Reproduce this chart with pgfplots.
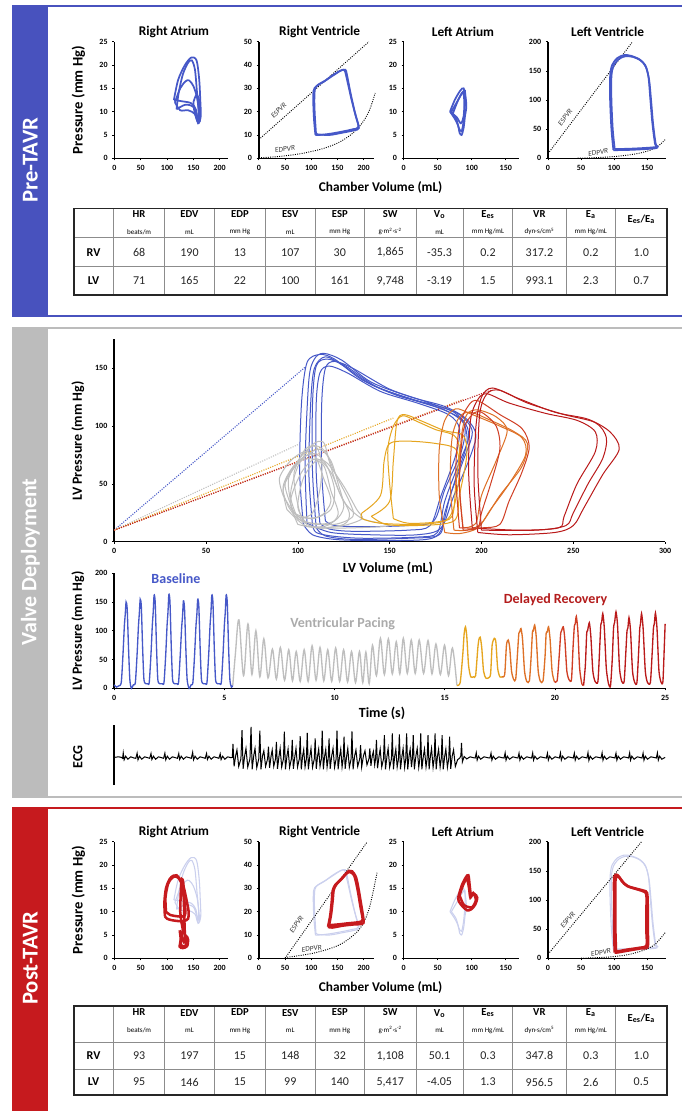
\documentclass[border=0pt]{standalone}
\usepackage{fontspec}
\setmainfont{Carlito}
\usepackage{pgfplots}
\pgfplotsset{compat=1.18}

\definecolor{pvblue}{RGB}{70,88,200}
\definecolor{sideblue}{RGB}{72,82,190}
\definecolor{sidegray}{RGB}{188,188,188}
\definecolor{sidered}{RGB}{198,26,30}
\definecolor{pvgray}{RGB}{190,190,190}
\definecolor{pvgold}{RGB}{230,165,30}
\definecolor{pvorange}{RGB}{222,112,38}
\definecolor{pvredor}{RGB}{208,62,36}
\definecolor{pvred}{RGB}{186,26,26}
\definecolor{fadeblue}{RGB}{203,208,238}
\definecolor{txtred}{RGB}{180,28,28}

\pgfplotsset{
  pvaxis/.style={
    scale only axis, anchor=south west, clip=false,
    axis lines=left, axis line style={-, line width=1.1pt, black},
    tick align=outside, major tick length=1.6pt,
    tick style={black, line width=0.5pt},
    ticklabel style={font=\fontsize{6}{6.5}\selectfont\bfseries, text=black},
    /pgf/number format/assume math mode=true,
  },
  small/.style={pvaxis, height=87.45pt, xmin=0, ymin=0},
  preloop/.style={smooth, tension=0.5, line width=1.3pt, pvblue},
  fadeloop/.style={smooth, tension=0.5, line width=0.8pt, fadeblue},
  postloop/.style={smooth, tension=0.5, line width=1.9pt, sidered},
  rel/.style={densely dotted, line width=0.7pt, black},
  mloop/.style={smooth, tension=0.5, line width=0.75pt},
}
\tikzset{lbl/.style={font=\fontsize{5.5}{6}\selectfont\itshape, text=black!80, inner sep=0.5pt}}

\newcommand\hd[4]{\node[align=center, inner sep=0pt] at (#1,#2)
  {\fontsize{8}{8.5}\selectfont\bfseries #3\\[0.5pt]\fontsize{5.3}{5.5}\selectfont #4};}

\begin{document}
\begin{tikzpicture}
\begin{scope}[x=0.75pt, y=-0.75pt]
  \fill[white] (0,0) rectangle (682,1111);
  \useasboundingbox (0,0) rectangle (682,1111);
  % panel frames
  \fill[sideblue] (12.3,6) rectangle (48.3,316);
  \draw[sideblue, line width=1.5pt] (12.3,6) -- (682,6);
  \draw[sideblue, line width=1.5pt] (12.3,316) -- (682,316);
  \fill[sidegray] (12.3,327.7) rectangle (48.3,797);
  \draw[sidegray, line width=1.5pt] (12.3,327.7) -- (682,327.7);
  \draw[sidegray, line width=1.5pt] (12.3,797) -- (682,797);
  \fill[sidered] (12.3,808.3) rectangle (48.3,1111);
  \draw[sidered, line width=1.5pt] (12.3,808.3) -- (682,808.3);
  \node[rotate=90, text=white, font=\fontsize{17}{19}\selectfont\bfseries] at (30.3,160) {Pre-TAVR};
  \node[rotate=90, text=white, font=\fontsize{16.5}{19}\selectfont\bfseries] at (30.3,562) {Valve Deployment};
  \node[rotate=90, text=white, font=\fontsize{17}{19}\selectfont\bfseries] at (30.3,958) {Post-TAVR};

  % small panel titles and labels
  \foreach \yo in {0,800} {
    \node[font=\fontsize{10}{11}\selectfont\bfseries] at (174,31.7+\yo) {Right Atrium};
    \node[font=\fontsize{10}{11}\selectfont\bfseries] at (319.7,31.7+\yo) {Right Ventricle};
    \node[font=\fontsize{10}{11}\selectfont\bfseries] at (463,31.7+\yo) {Left Atrium};
    \node[font=\fontsize{10}{11}\selectfont\bfseries] at (607.6,31.7+\yo) {Left Ventricle};
    \node[rotate=90, font=\fontsize{11}{12}\selectfont\bfseries] at (78.3,100+\yo) {Pressure (mm Hg)};
    \node[font=\fontsize{10}{11}\selectfont\bfseries] at (380.6,188+\yo) {Chamber Volume (mL)};
  }
  % middle labels
  \node[rotate=90, font=\fontsize{10.5}{11}\selectfont\bfseries] at (77.8,441) {LV Pressure (mm Hg)};
  \node[font=\fontsize{10.5}{11}\selectfont\bfseries] at (388,568.3) {LV Volume (mL)};
  \node[rotate=90, font=\fontsize{10.5}{11}\selectfont\bfseries] at (77.8,631) {LV Pressure (mm Hg)};
  \node[font=\fontsize{10.5}{11}\selectfont\bfseries] at (382,713.3) {Time (s)};
  \node[rotate=90, font=\fontsize{10.5}{11}\selectfont\bfseries] at (77.8,757) {ECG};
  \node[font=\fontsize{10.5}{11}\selectfont\bfseries, text=pvblue] at (175.9,579) {Baseline};
  \node[font=\fontsize{10.5}{11}\selectfont\bfseries, text=pvgray!90!black] at (342.7,624) {Ventricular Pacing};
  \node[font=\fontsize{10.5}{11}\selectfont\bfseries, text=txtred] at (555.5,600) {Delayed Recovery};

  % tables
  \foreach \ta/\tb/\tc/\td in {208.3/237.7/266.7/295, 1006/1042.5/1069/1095} {
    \draw[black!45, line width=0.6pt] (73.8,\tb) -- (667,\tb);
    \draw[black!45, line width=0.6pt] (73.8,\tc) -- (667,\tc);
    \foreach \x in {113.4,164.8,214.2,265.6,315,364.5,415.9,463.3,512.7,566.1,615.5}
      \draw[black!45, line width=0.6pt] (\x,\ta) -- (\x,\td);
    \draw[black!85, line width=1.1pt] (73.8,\ta) rectangle (667,\td);
  }
  \foreach \hy in {222.5, 1021} {
    \hd{139.1}{\hy}{HR}{beats/m}
    \hd{189.5}{\hy}{EDV}{mL}
    \hd{239.9}{\hy}{EDP}{mm Hg}
    \hd{290.3}{\hy}{ESV}{mL}
    \hd{339.8}{\hy}{ESP}{mm Hg}
    \hd{390.2}{\hy}{SW}{g·m\textsuperscript{2}·s\textsuperscript{-2}}
    \hd{439.6}{\hy}{V\textsubscript{o}}{mL}
    \hd{488}{\hy}{E\textsubscript{es}}{mm Hg/mL}
    \hd{539.4}{\hy}{VR}{dyn·s/cm\textsuperscript{5}}
    \hd{590.8}{\hy}{E\textsubscript{a}}{mm Hg/mL}
    \node[font=\fontsize{8}{9}\selectfont\bfseries] at (641.3,\hy-3) {E\textsubscript{es}/E\textsubscript{a}};
  }
  \foreach \ry/\lab in {252.2/RV, 280.8/LV, 1055.8/RV, 1082/LV}
    \node[font=\fontsize{9}{10}\selectfont\bfseries] at (93.6,\ry) {\lab};
  \foreach \x/\v in {139.1/68, 189.5/190, 239.9/13, 290.3/107, 339.8/30, 390.2/{1,865}, 439.6/-35.3, 488/0.2, 539.4/317.2, 590.8/0.2, 641.3/1.0}
    \node[font=\fontsize{9}{10}\selectfont, text=black!85] at (\x,252.2) {\v};
  \foreach \x/\v in {139.1/71, 189.5/165, 239.9/22, 290.3/100, 339.8/161, 390.2/{9,748}, 439.6/-3.19, 488/1.5, 539.4/993.1, 590.8/2.3, 641.3/0.7}
    \node[font=\fontsize{9}{10}\selectfont, text=black!85] at (\x,280.8) {\v};
  \foreach \x/\v in {139.1/93, 189.5/197, 239.9/15, 290.3/148, 339.8/32, 390.2/{1,108}, 439.6/50.1, 488/0.3, 539.4/347.8, 590.8/0.3, 641.3/1.0}
    \node[font=\fontsize{9}{10}\selectfont, text=black!85] at (\x,1055.8) {\v};
  \foreach \x/\v in {139.1/95, 189.5/146, 239.9/15, 290.3/99, 339.8/140, 390.2/{5,417}, 439.6/-4.05, 488/1.3, 539.4/956.5, 590.8/2.6, 641.3/0.5}
    \node[font=\fontsize{9}{10}\selectfont, text=black!85] at (\x,1082) {\v};

  % axis origins
  \coordinate (a1) at (114.4,158.3);
  \coordinate (a2) at (258.8,158.3);
  \coordinate (a3) at (403.7,158.3);
  \coordinate (a4) at (548,158.3);
  \coordinate (b1) at (114.4,958.3);
  \coordinate (b2) at (258.8,958.3);
  \coordinate (b3) at (403.7,958.3);
  \coordinate (b4) at (548,958.3);
  \coordinate (m1) at (114.2,541.7);
  \coordinate (m2) at (114.2,688.3);
  \coordinate (m3) at (114.2,785);
\end{scope}

% ---------------- Pre-TAVR ----------------
\begin{axis}[small, at={(a1)}, width=84.9pt, xmax=215, ymax=25,
  xtick={0,50,...,200}, ytick={0,5,...,25}]
\addplot[preloop] coordinates {(113,12.5)(121,16.8)(134,20)(146,21.6)(156,21)(161,17)(163,12.8)(164,9)(159,7.5)(155,10.4)(146,11.8)(130,12.2)(113,12.5)};
\addplot[preloop] coordinates {(115,12)(125,15)(135,16.5)(142,16.7)(150,15.5)(157,13)(160,10)(158,7.8)(153,9.5)(140,10.3)(125,10.3)(115,12)};
\addplot[preloop] coordinates {(118,10.5)(122,14)(130,18)(140,20.5)(147,21)(153,19)(157,14)(160,10.5)(162,8)(157,9)(150,11)(135,11.5)(118,10.5)};
\addplot[preloop] coordinates {(150,12)(155,13.5)(160,13)(162,10)(158,8)(152,10)(150,12)};
\end{axis}

\begin{axis}[small, at={(a2)}, width=86.5pt, xmax=220, ymax=50,
  xtick={0,50,...,200}, ytick={0,10,...,50}]
\addplot[rel] coordinates {(0,8)(210,50)};
\addplot[rel, smooth] coordinates {(0,0.2)(40,0.8)(80,2)(120,4)(150,6.5)(175,10)(195,14.5)(210,20)(222,28)};
\addplot[preloop] coordinates {(108,10)(105.5,16)(104,23)(104.5,29)(110,31)(125,33)(140,35.5)(155,37.5)(165,38)(168,36)(175,28)(183,20)(190,13.5)(180,12.5)(160,11.5)(135,10.5)(115,10)(108,10)};
\addplot[preloop] coordinates {(109,11)(107,18)(106,24)(107,29.5)(113,31.5)(128,33.5)(145,36)(158,37.8)(164,37.5)(169,33)(177,25)(185,18)(191,13)(182,12)(160,11)(135,10)(112,10.3)(109,11)};
\node[lbl, rotate=45] at (axis cs:38,20.5) {ESPVR};
\node[lbl, rotate=8] at (axis cs:50,4) {EDPVR};
\end{axis}

\begin{axis}[small, at={(a3)}, width=86.8pt, xmax=170, ymax=25,
  xtick={0,50,...,150}, ytick={0,5,...,25}]
\addplot[preloop] coordinates {(68,10)(75,12.5)(83,14.5)(88,15)(91,13)(92,11)(90,9)(88,6.5)(85,5)(82,5.5)(80,7)(75,8.5)(68,10)};
\addplot[preloop] coordinates {(70,10)(78,12)(86,14)(90,14.5)(90,11.5)(88,8)(85,5.8)(81,6.5)(77,8.5)(70,10)};
\addplot[preloop] coordinates {(72,9.5)(80,12.5)(87,14.2)(89,12)(88,9)(84,7.5)(78,8.8)(72,9.5)};
\end{axis}

\begin{axis}[small, at={(a4)}, width=88.2pt, xmax=178, ymax=200,
  xtick={0,50,...,150}, ytick={0,50,...,200}]
\addplot[rel] coordinates {(0,8)(128,200)};
\addplot[rel, smooth] coordinates {(45,0.3)(80,1.5)(110,4)(135,8)(155,14)(168,22)(178,33)};
\addplot[preloop] coordinates {(99,14)(96,50)(94,100)(94,140)(97,160)(105,172)(115,177)(125,176)(138,170)(147,160)(152,140)(155,100)(158,60)(162,25)(165,18)(150,16)(125,14.5)(105,14)(99,14)};
\addplot[preloop] coordinates {(101,16)(98,50)(96,100)(96,140)(99,158)(107,170)(117,175)(128,174)(140,168)(148,157)(153,135)(156,100)(159,60)(163,25)(166,20)(150,18)(125,16.5)(107,16)(101,16)};
\node[lbl, rotate=53] at (axis cs:26,70) {ESPVR};
\node[lbl, rotate=8] at (axis cs:76,10) {EDPVR};
\end{axis}

% ---------------- Valve deployment: PV loops ----------------
\begin{axis}[pvaxis, at={(m1)}, width=413.2pt, height=151.7pt,
  xmin=0, xmax=300, ymin=0, ymax=175,
  xtick={0,50,...,300}, ytick={0,50,100,150}]
\addplot[densely dotted, line width=0.8pt, pvblue] coordinates {(0,10)(104,151)};
\addplot[densely dotted, line width=0.8pt, pvgray] coordinates {(0,10)(100,84)};
\addplot[densely dotted, line width=0.8pt, pvgold] coordinates {(0,10)(152,107)};
\addplot[densely dotted, line width=0.8pt, pvorange] coordinates {(0,10)(190,123)};
\addplot[densely dotted, line width=0.8pt, pvred] coordinates {(0,10)(205,131)};
% baseline
\addplot[mloop, pvblue] coordinates {(103,15)(101,60)(102,120)(105,155)(112,162)(120,158)(135,140)(155,126)(175,118)(188,110)(195,95)(190,70)(183,40)(178,10)(170,2)(140,1)(120,2)(108,6)(103,15)};
\addplot[mloop, pvblue] coordinates {(108,14)(106,60)(107,120)(109,150)(115,160)(125,152)(140,136)(160,124)(178,115)(190,105)(193,90)(187,65)(180,35)(176,8)(165,4)(135,3)(118,5)(110,8)(108,14)};
\addplot[mloop, pvblue] coordinates {(112,16)(110,60)(110,120)(112,146)(117,152)(127,146)(145,130)(165,120)(182,110)(188,98)(186,75)(178,40)(172,14)(160,10)(130,9)(117,11)(112,16)};
\addplot[mloop, pvblue] coordinates {(115,18)(113,60)(113,120)(115,150)(120,156)(130,150)(150,132)(170,121)(185,112)(191,100)(189,78)(180,45)(174,18)(160,14)(135,13)(120,14)(115,18)};
\addplot[mloop, pvblue] coordinates {(105,16)(104,70)(106,140)(109,158)(114,163)(124,157)(140,138)(162,125)(180,117)(192,106)(197,92)(193,70)(185,40)(178,12)(165,6)(140,6)(118,8)(105,16)};
\addplot[mloop, pvblue] coordinates {(110,12)(108,60)(108,120)(110,152)(116,158)(126,152)(143,134)(163,123)(180,114)(190,103)(192,85)(186,55)(180,25)(177,6)(160,3)(130,2)(115,5)(110,12)};
% pacing
\addplot[mloop, pvgray] coordinates {(95,30)(92,45)(97,62)(105,75)(112,80)(118,70)(122,50)(125,30)(120,18)(110,15)(100,20)(95,30)};
\addplot[mloop, pvgray] coordinates {(98,25)(93,50)(100,70)(108,83)(115,78)(120,60)(128,35)(130,22)(120,15)(105,17)(98,25)};
\addplot[mloop, pvgray] coordinates {(92,40)(90,55)(96,70)(104,78)(110,72)(114,55)(118,35)(112,22)(100,22)(92,40)};
\addplot[mloop, pvgray] coordinates {(100,20)(96,40)(100,65)(108,84)(114,86)(117,70)(122,45)(128,25)(125,15)(110,12)(100,20)};
\addplot[mloop, pvgray] coordinates {(96,35)(95,55)(102,72)(110,76)(116,65)(120,45)(118,28)(108,20)(98,25)(96,35)};
\addplot[mloop, pvgray] coordinates {(105,15)(100,30)(103,55)(110,70)(116,68)(125,48)(132,28)(135,20)(125,14)(112,12)(105,15)};
\addplot[mloop, pvgray] coordinates {(99,40)(98,60)(104,80)(110,82)(113,68)(112,45)(108,25)(102,22)(99,40)};
\addplot[mloop, pvgray] coordinates {(94,28)(92,48)(98,66)(106,72)(114,66)(118,44)(122,24)(116,14)(104,14)(94,28)};
\addplot[mloop, pvgray] coordinates {(100,15)(96,35)(102,60)(110,72)(118,60)(125,35)(135,20)(150,14)(130,12)(110,12)(100,15)};
% recovery
\addplot[mloop, pvgold] coordinates {(152,20)(150,50)(149,80)(152,100)(157,109)(165,104)(175,97)(185,92)(188,80)(186,50)(184,22)(175,17)(160,16)(152,20)};
\addplot[mloop, pvgold] coordinates {(135,25)(145,40)(147,70)(150,85)(160,87)(175,85)(186,80)(188,60)(185,30)(180,18)(165,15)(145,16)(135,20)(135,25)};
\addplot[mloop, pvgold] coordinates {(140,22)(150,35)(152,70)(154,104)(158,110)(168,104)(180,96)(190,92)(192,75)(188,40)(185,18)(165,14)(148,15)(140,22)};
\addplot[mloop, pvorange] coordinates {(180,8)(177,40)(177,80)(180,105)(186,115)(195,110)(210,100)(222,90)(224,75)(215,50)(205,28)(198,12)(188,7)(180,8)};
\addplot[mloop, pvorange] coordinates {(185,10)(183,50)(184,90)(188,108)(194,112)(205,105)(218,95)(225,85)(222,65)(210,40)(200,16)(192,10)(185,10)};
\addplot[mloop, pvorange] coordinates {(190,12)(188,50)(189,90)(192,110)(198,114)(208,108)(214,96)(208,70)(200,40)(197,16)(190,12)};
\addplot[mloop, pvred] coordinates {(198,8)(196,50)(197,100)(200,125)(206,133)(220,124)(240,112)(258,106)(270,95)(275,80)(266,58)(256,30)(250,14)(240,8)(215,6)(198,8)};
\addplot[mloop, pvred] coordinates {(200,10)(198,60)(199,110)(203,128)(210,131)(225,120)(245,110)(262,103)(268,90)(266,72)(258,50)(250,25)(246,14)(230,10)(200,10)};
\addplot[mloop, pvred] coordinates {(195,12)(193,60)(194,105)(198,123)(203,128)(215,120)(235,111)(252,105)(262,95)(262,78)(252,50)(245,22)(242,12)(220,10)(195,12)};
\addplot[mloop, pvredor] coordinates {(188,12)(186,60)(188,100)(193,118)(198,122)(210,110)(222,98)(226,82)(222,60)(215,35)(210,15)(200,12)(188,12)};
\addplot[mloop, pvredor] coordinates {(190,10)(188,50)(190,95)(195,110)(200,112)(208,100)(210,80)(205,50)(200,25)(198,12)(190,10)};
\end{axis}

% ---------------- Valve deployment: pressure vs time ----------------
\begin{axis}[pvaxis, at={(m2)}, width=413.2pt, height=86.25pt,
  xmin=0, xmax=25, ymin=0, ymax=200,
  xtick={0,5,...,25}, ytick={0,50,...,200}]
\addplot[smooth, tension=0.4, line width=1pt, pvblue] coordinates {
(0,6)(0.1,2)(0.2,4)(0.32,10)(0.40,60)(0.46,108)(0.50,128)(0.54,150)(0.59,138)(0.65,70)(0.71,15)(0.78,0)(0.87,6)
(0.96,10)(1.04,60)(1.10,108)(1.14,130)(1.18,155)(1.23,143)(1.29,70)(1.35,15)(1.44,8)(1.52,8)
(1.59,10)(1.67,60)(1.73,110)(1.77,132)(1.81,162)(1.86,150)(1.92,72)(1.98,15)(2.07,8)(2.18,8)
(2.26,10)(2.34,60)(2.40,110)(2.44,132)(2.48,163)(2.53,151)(2.59,72)(2.65,15)(2.74,8)(2.84,8)
(2.92,10)(3.00,60)(3.06,105)(3.10,125)(3.14,152)(3.19,140)(3.25,70)(3.31,15)(3.40,0)(3.49,6)
(3.57,10)(3.65,60)(3.71,108)(3.75,128)(3.79,155)(3.84,143)(3.90,70)(3.96,15)(4.05,8)(4.14,8)
(4.21,10)(4.29,60)(4.35,110)(4.39,132)(4.43,162)(4.48,150)(4.54,72)(4.60,15)(4.69,8)(4.78,8)
(4.86,10)(4.94,60)(5.00,110)(5.04,132)(5.08,162)(5.13,150)(5.19,72)(5.25,15)(5.32,2)(5.38,5)};
\addplot[smooth, tension=0.55, line width=1pt, pvgray] coordinates {
(5.38,5)(5.5,60)(5.66,119)(5.87,22)(6.07,112)(6.25,24)(6.43,100)(6.61,20)(6.79,86)(6.98,18)
(7.18,68)(7.36,16)(7.54,71)(7.73,14)(7.92,67)(8.09,13)(8.26,64)(8.44,12)(8.62,67)(8.80,12)
(8.98,74)(9.16,14)(9.34,71)(9.51,13)(9.69,67)(9.87,12)(10.05,70)(10.23,12)(10.41,67)(10.59,11)
(10.77,64)(10.95,10)(11.13,64)(11.28,10)(11.42,63)(11.57,8)(11.72,75)(11.90,22)(12.08,87)(12.26,24)
(12.44,86)(12.62,25)(12.80,81)(12.96,25)(13.12,87)(13.30,26)(13.48,84)(13.66,26)(13.84,84)(14.04,26)
(14.24,83)(14.42,25)(14.60,77)(14.80,24)(14.99,75)(15.17,22)(15.35,70)(15.55,5)};
\addplot[smooth, tension=0.4, line width=1pt, pvgold] coordinates {
(15.55,5)(15.7,10)(15.82,60)(15.88,95)(15.94,107)(16.0,90)(16.08,40)(16.18,20)(16.3,20)(16.4,22)
(16.5,70)(16.55,85)(16.61,89)(16.68,70)(16.76,30)(16.86,18)(16.98,18)(17.08,25)(17.15,75)(17.25,87)
(17.32,80)(17.40,35)(17.5,20)(17.6,20)};
\addplot[smooth, tension=0.4, line width=1pt, pvorange] coordinates {
(17.6,20)(17.72,24)(17.8,75)(17.88,84)(17.95,70)(18.03,30)(18.13,15)(18.22,16)(18.3,60)(18.36,95)
(18.4,98)(18.46,104)(18.53,85)(18.62,30)(18.72,12)(18.84,13)(18.92,55)(18.98,98)(19.02,100)(19.08,110)
(19.15,90)(19.24,30)(19.34,12)(19.46,13)(19.55,55)(19.6,95)(19.65,98)(19.71,107)(19.78,85)(19.87,30)(19.97,12)};
\addplot[smooth, tension=0.4, line width=1pt, pvredor] coordinates {
(19.97,12)(20.1,13)(20.2,60)(20.26,95)(20.3,100)(20.38,107)(20.45,85)(20.54,30)(20.64,15)(20.75,15)
(20.82,70)(20.88,108)(20.92,112)(20.97,125)(21.04,100)(21.12,35)(21.22,8)(21.3,5)};
\addplot[smooth, tension=0.4, line width=1pt, pvred] coordinates {
(21.3,5)(21.38,40)(21.44,95)(21.48,100)(21.56,114)(21.63,90)(21.72,30)(21.82,12)(21.95,12)(22.03,70)
(22.08,110)(22.12,115)(22.17,130)(22.24,105)(22.33,35)(22.43,8)(22.52,4)(22.6,50)(22.66,105)(22.71,115)
(22.77,133)(22.84,110)(22.93,35)(23.03,12)(23.14,12)(23.22,65)(23.27,100)(23.31,105)(23.36,123)(23.43,100)
(23.52,30)(23.62,10)(23.72,10)(23.8,65)(23.85,105)(23.88,112)(23.93,130)(24.0,105)(24.1,30)(24.2,10)
(24.33,10)(24.41,60)(24.47,105)(24.51,112)(24.56,131)(24.63,105)(24.72,30)(24.82,10)(24.9,12)(24.96,70)(25,112)};
\end{axis}

% ---------------- ECG ----------------
\begin{axis}[scale only axis, anchor=south west, at={(m3)}, width=413.2pt, height=45pt,
  xmin=0, xmax=25, ymin=-0.92, ymax=1.08, clip=false,
  axis x line=none, axis y line=left, axis line style={-, line width=1.1pt, black},
  xtick=\empty, ytick=\empty]
\addplot[line width=0.75pt, black] coordinates {
(0,0)(0.2,0.02)(0.33,0.0)(0.38,-0.03)(0.41,0.15)(0.45,-0.08)(0.52,0.04)(0.62,-0.06)(0.75,0.02)(0.9,-0.02)
(0.98,-0.03)(1.04,0.14)(1.08,-0.08)(1.15,0.04)(1.25,-0.06)(1.38,0.02)(1.52,-0.01)
(1.61,-0.03)(1.67,0.13)(1.71,-0.07)(1.78,0.04)(1.88,-0.06)(2.01,0.02)(2.15,-0.01)
(2.24,-0.03)(2.30,0.14)(2.34,-0.08)(2.41,0.04)(2.51,-0.06)(2.64,0.02)(2.78,-0.01)
(2.87,-0.03)(2.93,0.13)(2.97,-0.07)(3.04,0.04)(3.14,-0.06)(3.27,0.02)(3.41,-0.01)
(3.50,-0.03)(3.56,0.17)(3.60,-0.08)(3.67,0.04)(3.77,-0.06)(3.90,0.02)(4.04,-0.01)
(4.13,-0.03)(4.19,0.13)(4.23,-0.07)(4.30,0.04)(4.40,-0.06)(4.53,0.02)(4.67,-0.01)
(4.75,-0.03)(4.81,0.12)(4.85,-0.07)(4.92,0.04)(5.02,-0.06)(5.15,0.02)(5.30,-0.01)
(5.36,0.0)(5.39,0.45)(5.44,-0.3)(5.51,0.05)(5.57,0.25)(5.65,-0.3)
(5.75,-0.05)(5.80,0.91)(5.85,-0.38)(5.92,0.05)(5.98,0.3)(6.06,-0.32)
(6.16,-0.05)(6.21,1.02)(6.26,-0.4)(6.33,0.05)(6.39,0.3)(6.47,-0.34)
(6.56,-0.05)(6.61,0.89)(6.66,-0.4)(6.73,0.05)(6.79,0.22)(6.87,-0.3)
(6.96,-0.05)(7.00,0.36)(7.05,-0.35)(7.12,0.05)(7.17,0.25)(7.24,-0.3)
(7.32,-0.05)(7.36,0.52)(7.41,-0.38)(7.48,0.05)(7.53,0.3)(7.60,-0.32)
(7.68,-0.05)(7.72,0.86)(7.77,-0.4)(7.84,0.05)(7.89,0.28)(7.96,-0.33)
(8.04,-0.05)(8.08,0.58)(8.13,-0.38)(8.20,0.05)(8.25,0.3)(8.32,-0.32)
(8.40,-0.05)(8.44,0.71)(8.49,-0.4)(8.55,0.05)(8.60,0.26)(8.66,-0.32)
(8.72,-0.05)(8.76,0.82)(8.81,-0.4)(8.88,0.05)(8.93,0.3)(9.0,-0.33)
(9.08,-0.05)(9.12,0.63)(9.17,-0.38)(9.23,0.05)(9.28,0.28)(9.34,-0.3)
(9.40,-0.05)(9.44,0.89)(9.49,-0.4)(9.55,0.05)(9.60,0.27)(9.66,-0.32)
(9.71,-0.05)(9.75,0.63)(9.80,-0.38)(9.87,0.05)(9.93,0.3)(10.0,-0.33)
(10.07,-0.05)(10.11,0.89)(10.16,-0.4)(10.23,0.05)(10.28,0.28)(10.34,-0.32)
(10.39,-0.05)(10.43,0.69)(10.48,-0.38)(10.55,0.05)(10.60,0.3)(10.67,-0.33)
(10.75,-0.05)(10.79,0.87)(10.84,-0.4)(10.91,0.05)(10.97,0.25)(11.05,-0.3)
(11.14,-0.05)(11.18,0.41)(11.23,-0.32)(11.31,0.05)(11.38,0.22)(11.47,-0.25)
(11.56,-0.05)(11.60,0.30)(11.65,-0.28)(11.71,0.05)(11.76,0.2)(11.82,-0.25)
(11.86,-0.05)(11.90,0.58)(11.95,-0.36)(12.02,0.05)(12.07,0.28)(12.14,-0.32)
(12.22,-0.05)(12.26,0.74)(12.31,-0.4)(12.38,0.05)(12.43,0.3)(12.50,-0.33)
(12.58,-0.05)(12.62,0.80)(12.67,-0.4)(12.73,0.05)(12.78,0.28)(12.84,-0.32)
(12.90,-0.05)(12.94,0.77)(12.99,-0.4)(13.06,0.05)(13.11,0.3)(13.18,-0.33)
(13.23,-0.05)(13.27,0.80)(13.32,-0.4)(13.38,0.05)(13.43,0.27)(13.49,-0.32)
(13.53,-0.05)(13.57,0.74)(13.62,-0.4)(13.69,0.05)(13.75,0.3)(13.82,-0.33)
(13.87,-0.05)(13.91,0.80)(13.96,-0.4)(14.03,0.05)(14.08,0.28)(14.15,-0.32)
(14.20,-0.05)(14.24,0.74)(14.29,-0.4)(14.35,0.05)(14.40,0.3)(14.47,-0.33)
(14.52,-0.05)(14.56,0.80)(14.61,-0.4)(14.67,0.05)(14.72,0.27)(14.79,-0.32)
(14.84,-0.05)(14.88,0.74)(14.93,-0.4)(15.0,0.05)(15.05,0.28)(15.12,-0.33)
(15.18,-0.05)(15.22,0.69)(15.27,-0.38)(15.34,0.05)(15.40,0.25)(15.48,-0.3)
(15.58,-0.08)(15.68,-0.02)(15.73,0.05)(15.76,0.48)(15.80,-0.15)(15.88,0.03)(16.0,-0.05)(16.15,0.02)(16.3,-0.01)
(16.38,-0.02)(16.43,0.15)(16.47,-0.09)(16.53,0.04)(16.63,-0.06)(16.78,0.02)(16.95,-0.01)
(17.05,-0.02)(17.10,0.14)(17.14,-0.09)(17.20,0.04)(17.30,-0.06)(17.45,0.02)(17.6,-0.01)
(17.69,-0.02)(17.74,0.15)(17.78,-0.09)(17.84,0.04)(17.94,-0.06)(18.09,0.02)(18.25,-0.01)
(18.32,-0.02)(18.37,0.14)(18.41,-0.09)(18.47,0.04)(18.57,-0.06)(18.72,0.02)(18.87,-0.01)
(18.94,-0.02)(18.99,0.15)(19.03,-0.09)(19.09,0.04)(19.19,-0.06)(19.34,0.02)(19.52,-0.01)
(19.61,-0.02)(19.66,0.14)(19.70,-0.09)(19.76,0.04)(19.86,-0.06)(20.01,0.02)(20.15,-0.01)
(20.20,-0.02)(20.25,0.15)(20.29,-0.09)(20.35,0.04)(20.45,-0.06)(20.6,0.02)(20.78,-0.01)
(20.83,-0.02)(20.88,0.14)(20.92,-0.09)(20.98,0.04)(21.08,-0.06)(21.23,0.02)(21.4,-0.01)
(21.45,-0.02)(21.50,0.16)(21.54,-0.1)(21.60,0.04)(21.70,-0.06)(21.85,0.02)(22.04,-0.01)
(22.09,-0.02)(22.14,0.15)(22.18,-0.09)(22.24,0.04)(22.34,-0.06)(22.49,0.02)(22.67,-0.01)
(22.72,-0.02)(22.77,0.14)(22.81,-0.09)(22.87,0.04)(22.97,-0.06)(23.12,0.02)(23.3,-0.01)
(23.34,-0.02)(23.39,0.15)(23.43,-0.09)(23.49,0.04)(23.59,-0.06)(23.74,0.02)(23.9,-0.01)
(23.95,-0.02)(24.00,0.14)(24.04,-0.09)(24.10,0.04)(24.20,-0.06)(24.35,0.02)(24.55,-0.01)
(24.60,-0.02)(24.65,0.15)(24.69,-0.09)(24.75,0.04)(24.85,-0.06)(25,0.0)};
\end{axis}

% ---------------- Post-TAVR ----------------
\begin{axis}[small, at={(b1)}, width=84.9pt, xmax=215, ymax=25,
  xtick={0,50,...,200}, ytick={0,5,...,25}]
\addplot[fadeloop] coordinates {(113,12.5)(121,16.8)(134,20)(146,21.6)(156,21)(161,17)(163,12.8)(164,9)(159,7.5)(155,10.4)(146,11.8)(130,12.2)(113,12.5)};
\addplot[fadeloop] coordinates {(115,12)(125,15)(135,16.5)(142,16.7)(150,15.5)(157,13)(160,10)(158,7.8)(153,9.5)(140,10.3)(125,10.3)(115,12)};
\addplot[fadeloop] coordinates {(118,10.5)(122,14)(130,18)(140,20.5)(147,21)(153,19)(157,14)(160,10.5)(162,8)(157,9)(150,11)(135,11.5)(118,10.5)};
\addplot[postloop] coordinates {(96,9)(95,12)(98,15)(105,17)(112,17.7)(118,17.8)(124,17)(131,15.5)(137,12.5)(141,10)(140,8.5)(132,8)(120,8)(108,8.2)(100,8.5)(96,9)};
\addplot[postloop] coordinates {(98,10)(97,13)(102,16)(110,17.3)(118,17.5)(126,16.5)(132,13)(135,10)(132,9)(120,9)(106,9.3)(98,10)};
\addplot[postloop] coordinates {(125,10)(126,14)(128,17)(131,16)(132,12)(133,8)(134,5)(136,3)(132,2.5)(126,3)(128,5)(130,6)(127,8)(125,10)};
\addplot[postloop] coordinates {(124,6)(126,4)(124,2.5)(130,2.2)(138,2.6)(140,4)(136,4.8)(132,3.5)(128,5)(124,6)};
\end{axis}

\begin{axis}[small, at={(b2)}, width=86.5pt, xmax=220, ymax=50,
  xtick={0,50,...,200}, ytick={0,10,...,50}]
\addplot[fadeloop] coordinates {(108,10)(105.5,16)(104,23)(104.5,29)(110,31)(125,33)(140,35.5)(155,37.5)(165,38)(168,36)(175,28)(183,20)(190,13.5)(180,12.5)(160,11.5)(135,10.5)(115,10)(108,10)};
\addplot[fadeloop] coordinates {(109,11)(107,18)(106,24)(107,29.5)(113,31.5)(128,33.5)(145,36)(158,37.8)(164,37.5)(169,33)(177,25)(185,18)(191,13)(182,12)(160,11)(135,10)(112,10.3)(109,11)};
\addplot[rel] coordinates {(50,0)(207,50)};
\addplot[rel, smooth] coordinates {(50,0.3)(104,2.2)(154,5.8)(191,12.2)(210,20.9)(225.5,36.7)};
\addplot[postloop] coordinates {(132,13.5)(136,18)(139,24)(141,29)(146,31.5)(155,33.5)(165,36)(172,37.5)(178,37.3)(185,35)(190,30)(196,22)(200,16)(197,14.8)(180,14.5)(160,14)(140,13.2)(132,13.5)};
\addplot[postloop] coordinates {(134,14.2)(138,19)(141,25)(143,29.5)(149,32)(158,34)(167,36.3)(174,37)(182,35.5)(188,30)(194,22)(198,16.5)(190,15.5)(170,15)(150,14.5)(134,14.2)};
\node[lbl, rotate=55] at (axis cs:72,14.5) {ESPVR};
\node[lbl, rotate=8] at (axis cs:101,4.2) {EDPVR};
\end{axis}

\begin{axis}[small, at={(b3)}, width=86.8pt, xmax=170, ymax=25,
  xtick={0,50,...,150}, ytick={0,5,...,25}]
\addplot[fadeloop] coordinates {(68,10)(75,12.5)(83,14.5)(88,15)(91,13)(92,11)(90,9)(88,6.5)(85,5)(82,5.5)(80,7)(75,8.5)(68,10)};
\addplot[fadeloop] coordinates {(70,10)(78,12)(86,14)(90,14.5)(90,11.5)(88,8)(85,5.8)(81,6.5)(77,8.5)(70,10)};
\addplot[postloop] coordinates {(80,13)(85,15.5)(91,17.3)(95,17.8)(97,15.5)(99,13.5)(104,13.8)(108,13)(105,11.5)(99,10.5)(93,10.3)(86,11.2)(81,12.2)(80,13)};
\addplot[postloop] coordinates {(82,13.5)(88,16)(93,17)(96,15)(98,13)(102,14)(106,12.5)(101,11)(95,11)(88,11.5)(82,13.5)};
\end{axis}

\begin{axis}[small, at={(b4)}, width=88.2pt, xmax=178, ymax=200,
  xtick={0,50,...,150}, ytick={0,50,...,200}]
\addplot[fadeloop] coordinates {(99,14)(96,50)(94,100)(94,140)(97,160)(105,172)(115,177)(125,176)(138,170)(147,160)(152,140)(155,100)(158,60)(162,25)(165,18)(150,16)(125,14.5)(105,14)(99,14)};
\addplot[fadeloop] coordinates {(101,16)(98,50)(96,100)(96,140)(99,158)(107,170)(117,175)(128,174)(140,168)(148,157)(153,135)(156,100)(159,60)(163,25)(166,20)(150,18)(125,16.5)(107,16)(101,16)};
\addplot[rel] coordinates {(0,7)(141.6,200)};
\addplot[rel, smooth] coordinates {(50,0.2)(90,2)(120,6)(145,14)(162,24)(178,45)};
\addplot[postloop] coordinates {(101,10)(100,50)(100,100)(100,135)(102,143)(106,142)(112,132)(120,124)(135,119)(145,116)(150,112)(151,90)(151,50)(151,20)(140,17)(120,13)(105,10)(101,10)};
\addplot[postloop] coordinates {(103,12)(102,50)(102,100)(102,132)(104,140)(108,139)(114,130)(122,123)(136,118)(146,114)(149,108)(149,80)(149,45)(149,22)(138,18)(120,15)(106,12)(103,12)};
\node[lbl, rotate=50] at (axis cs:30,66) {ESPVR};
\node[lbl, rotate=8] at (axis cs:80,10) {EDPVR};
\end{axis}
\end{tikzpicture}
\end{document}
